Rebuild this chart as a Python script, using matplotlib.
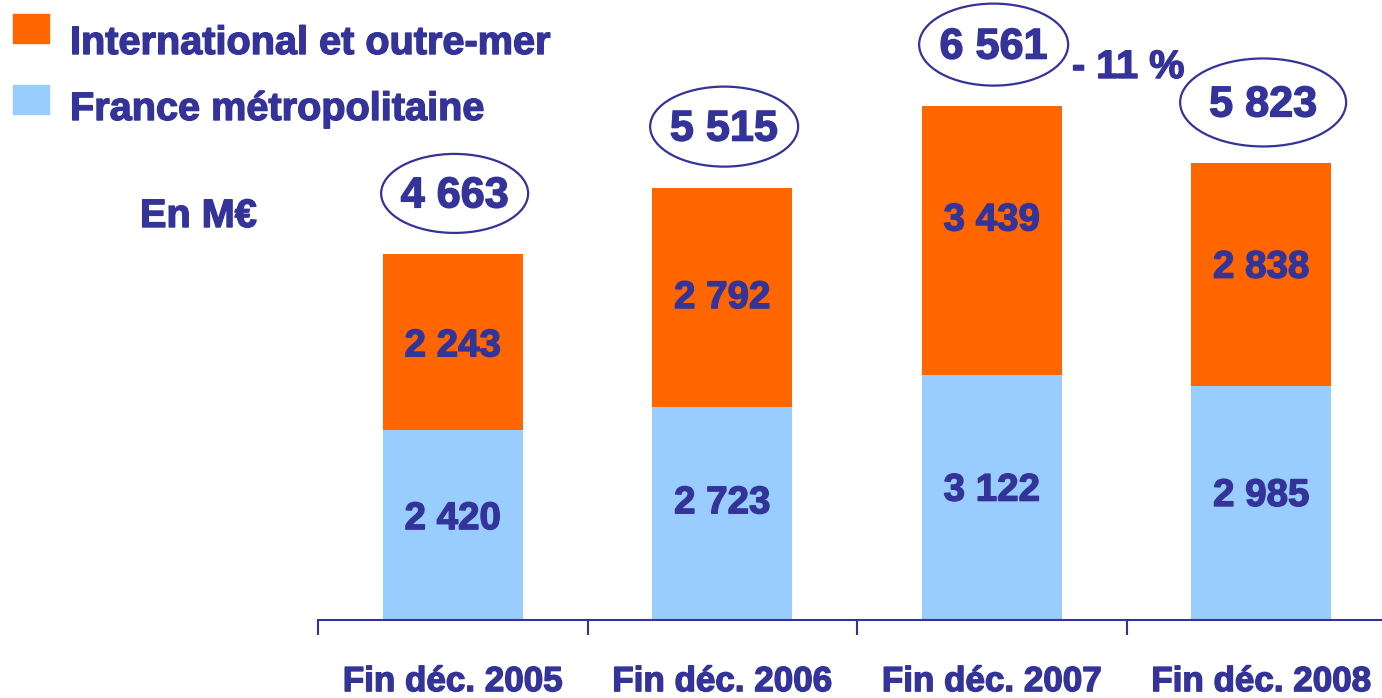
import matplotlib
matplotlib.use("Agg")
import matplotlib.pyplot as plt
import matplotlib.patheffects as pe
from matplotlib import font_manager
from matplotlib.patches import Ellipse, Rectangle

# data
years = ["Fin déc. 2005", "Fin déc. 2006", "Fin déc. 2007", "Fin déc. 2008"]
france = [2420, 2723, 3122, 2985]
international = [2243, 2792, 3439, 2838]
totals = [4663, 5515, 6561, 5823]
series_names = ["International et outre-mer", "France métropolitaine"]
unit_label = "En M€"
change_label = "- 11 %"

ORANGE = "#FF6600"
BLUE = "#99CCFF"
NAVY = "#333399"

# narrow font if available, else squeeze the size a bit
installed = {f.name for f in font_manager.fontManager.ttflist}
if "Liberation Sans Narrow" in installed:
    FAM = ["Liberation Sans Narrow", "DejaVu Sans"]
    k = 1.0
else:
    FAM = ["Liberation Sans", "DejaVu Sans"]
    k = 0.84

# a bit of stroke to get the heavy look of the original
heavy = [pe.withStroke(linewidth=1.0, foreground=NAVY)]
txt = dict(fontweight="bold", color=NAVY, family=FAM, path_effects=heavy)

W, H = 1382, 698
fig = plt.figure(figsize=(W / 100, H / 100), dpi=100)
ax = fig.add_axes([318 / W, (H - 620) / H, (W - 318) / W, 620 / H])

YMAX = 7908
px_y = YMAX / 620.0      # data units per pixel (y)
px_x = 1 / 269.5         # data units per pixel (x)

x = list(range(len(years)))
ax.bar(x, france, width=0.52, color=BLUE, zorder=2)
ax.bar(x, international, width=0.52, bottom=france, color=ORANGE, zorder=2)

ax.set_xlim(-0.5, -0.5 + (W - 318) * px_x)
ax.set_ylim(0, YMAX)

for s in ["left", "right", "top"]:
    ax.spines[s].set_visible(False)
ax.spines["bottom"].set_color(NAVY)
ax.spines["bottom"].set_linewidth(1.5)
ax.set_yticks([])

ax.set_xticks(x)
ax.set_xticklabels(years, fontsize=30 * k, **txt)
ax.tick_params(axis="x", which="major", length=0, pad=32.5)
ax.set_xticks([i - 0.5 for i in x], minor=True)
ax.tick_params(axis="x", which="minor", length=11, width=1.5, color=NAVY, direction="out")

# labels inside bars (offsets in px, upward)
off_orange = [-4, -1, 20, 7]
off_blue = [6, 10, 7, 7]
for i in x:
    ax.text(i, france[i] / 2 + off_blue[i] * px_y, f"{france[i]:,}".replace(",", " "),
            ha="center", va="center", fontsize=33 * k, zorder=3, **txt)
    ax.text(i, france[i] + international[i] / 2 + off_orange[i] * px_y,
            f"{international[i]:,}".replace(",", " "),
            ha="center", va="center", fontsize=33 * k, zorder=3, **txt)

# circled totals
ell_w = [147, 148, 149, 166]
ell_h = [79, 80, 82, 88]
for i in x:
    cy = totals[i] + 61 * px_y
    ax.add_patch(Ellipse((i + 0.007, cy), ell_w[i] * px_x, ell_h[i] * px_y,
                         fill=False, ec=NAVY, lw=1.6, clip_on=False, zorder=3))
    ax.text(i + 0.007, cy - 3 * px_y, f"{totals[i]:,}".replace(",", " "),
            ha="center", va="center", fontsize=37 * k, zorder=4, **txt)

fig.text(1072 / W, (H - 78) / H, change_label, ha="left", va="baseline",
         fontsize=34 * k, **txt)

# legend
fig.add_artist(Rectangle((13 / W, (H - 43) / H), 36 / W, 29 / H,
                         transform=fig.transFigure, color=ORANGE))
fig.add_artist(Rectangle((13 / W, (H - 114) / H), 36 / W, 29 / H,
                         transform=fig.transFigure, color=BLUE))
fig.text(70 / W, (H - 54) / H, series_names[0], ha="left", va="baseline",
         fontsize=34 * k, **txt)
fig.text(70 / W, (H - 120) / H, series_names[1], ha="left", va="baseline",
         fontsize=34 * k, **txt)

fig.text(140 / W, (H - 227) / H, unit_label, ha="left", va="baseline",
         fontsize=34 * k, **txt)

fig.savefig("out.png", dpi=100)
